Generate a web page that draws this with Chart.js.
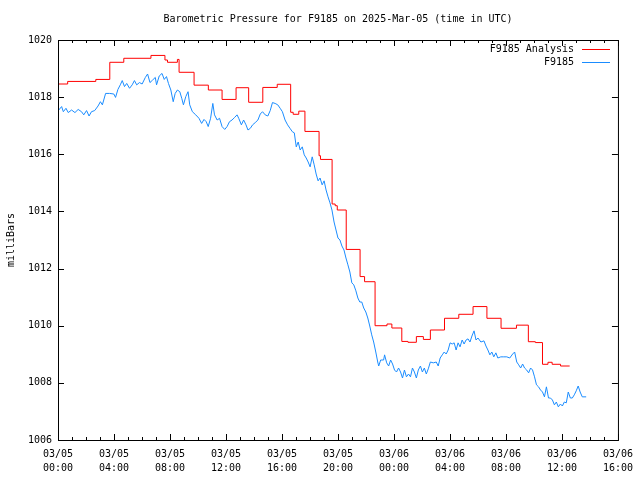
<!DOCTYPE html>
<html>
<head>
<meta charset="utf-8">
<script src="https://cdn.jsdelivr.net/npm/chart.js@4.4.1/dist/chart.umd.min.js"></script>
<style>
html,body{margin:0;padding:0;background:#fff;}
canvas{display:block;}
</style>
</head>
<body>
<canvas id="c" width="640" height="480"></canvas>
<script>
const chartTitle = "Barometric Pressure for F9185 on 2025-Mar-05 (time in UTC)";
const yTitle = "milliBars";
const startMonth = "03";
const startDay = 5; // hour 0 = 03/05 00:00 UTC
const xMin = 0, xMax = 40, xStep = 4;
const yMin = 1006, yMax = 1020, yStep = 2;

// hourly analysis, step starts (hours since 03/05 00:00)
const analysisLabel = "F9185 Analysis";
const analysisHours = [0, 0.69, 2.70, 3.70, 4.70, 6.64, 7.64, 7.82, 8.53, 8.65, 9.72, 10.74, 11.72, 12.72, 13.62, 14.63, 15.66, 16.62, 16.80, 17.20, 17.64, 18.65, 18.75, 19.58, 19.80, 19.95, 20.59, 21.58, 21.90, 22.65, 23.50, 23.85, 24.56, 25.00, 25.60, 26.10, 26.60, 27.61, 28.63, 29.65, 30.64, 31.65, 32.75, 33.60, 34.10, 34.61, 35.00, 35.30, 35.90, 36.55];
const analysisValues = [1018.46, 1018.55, 1018.62, 1019.22, 1019.36, 1019.46, 1019.30, 1019.22, 1019.32, 1018.87, 1018.42, 1018.25, 1017.92, 1018.33, 1017.82, 1018.34, 1018.45, 1017.47, 1017.40, 1017.51, 1016.80, 1015.95, 1015.82, 1014.26, 1014.20, 1014.05, 1012.67, 1011.72, 1011.54, 1010.00, 1010.06, 1009.92, 1009.45, 1009.42, 1009.62, 1009.52, 1009.85, 1010.26, 1010.40, 1010.67, 1010.26, 1009.91, 1010.02, 1009.44, 1009.41, 1008.65, 1008.72, 1008.65, 1008.59, 1008.59];

// station observations
const obsLabel = "F9185";
const obsHours = [0.02, 0.26, 0.38, 0.57, 0.73, 0.97, 1.21, 1.44, 1.68, 1.84, 2.04, 2.22, 2.39, 2.62, 2.86, 3.03, 3.17, 3.40, 3.69, 3.99,
  4.11, 4.28, 4.45, 4.59, 4.75, 4.91, 5.11, 5.30, 5.46, 5.62, 5.82, 6.01, 6.24, 6.40, 6.57, 6.76, 6.95, 7.04, 7.23, 7.43,
  7.59, 7.75, 7.89, 8.06, 8.23, 8.37, 8.53, 8.70, 8.84, 8.96, 9.13, 9.29, 9.41, 9.60, 9.84, 10.07, 10.26, 10.43, 10.59, 10.73,
  10.90, 11.06, 11.18, 11.37, 11.54, 11.72, 11.91, 12.08, 12.25, 12.43, 12.62, 12.79, 12.91, 13.10, 13.26, 13.43, 13.57, 13.74, 13.90, 14.09,
  14.28, 14.45, 14.61, 14.80, 14.99, 15.16, 15.32, 15.51, 15.70, 15.87, 16.03, 16.22, 16.40, 16.57, 16.74, 16.88, 17.02, 17.16, 17.30, 17.45,
  17.59, 17.73, 17.87, 18.01, 18.16, 18.30, 18.44, 18.58, 18.72, 18.87, 19.01, 19.15, 19.29, 19.43, 19.57, 19.72, 19.86, 20.00, 20.14, 20.28,
  20.43, 20.57, 20.71, 20.85, 20.99, 21.13, 21.28, 21.42, 21.56, 21.70, 21.84, 21.99, 22.13, 22.27, 22.41, 22.55, 22.70, 22.84, 22.91, 23.05,
  23.26, 23.33, 23.48, 23.62, 23.76, 23.90, 24.04, 24.18, 24.33, 24.47, 24.61, 24.75, 24.89, 25.04, 25.18, 25.32, 25.46, 25.60, 25.74, 25.89,
  26.03, 26.17, 26.31, 26.45, 26.60, 26.81, 27.02, 27.16, 27.30, 27.45, 27.59, 27.73, 27.87, 28.01, 28.16, 28.30, 28.44, 28.58, 28.72, 28.87,
  29.01, 29.15, 29.29, 29.43, 29.57, 29.72, 29.86, 30.00, 30.21, 30.43, 30.57, 30.71, 30.85, 30.99, 31.13, 31.28, 31.42, 31.63, 31.84, 32.06,
  32.27, 32.48, 32.62, 32.77, 32.91, 33.05, 33.19, 33.33, 33.48, 33.62, 33.76, 33.90, 34.04, 34.18, 34.33, 34.47, 34.61, 34.75, 34.89, 35.04,
  35.18, 35.32, 35.46, 35.60, 35.74, 35.89, 36.03, 36.17, 36.31, 36.45, 36.60, 36.74, 36.88, 37.02, 37.16, 37.30, 37.45, 37.73];
const obsValues = [1017.53, 1017.67, 1017.49, 1017.61, 1017.46, 1017.55, 1017.46, 1017.57, 1017.49, 1017.38, 1017.53, 1017.34, 1017.49, 1017.53, 1017.69, 1017.84, 1017.73, 1018.13, 1018.13, 1018.11,
  1017.99, 1018.27, 1018.43, 1018.58, 1018.37, 1018.48, 1018.31, 1018.43, 1018.58, 1018.43, 1018.51, 1018.46, 1018.69, 1018.81, 1018.51, 1018.60, 1018.69, 1018.43, 1018.74, 1018.83,
  1018.62, 1018.72, 1018.48, 1018.25, 1017.84, 1018.13, 1018.25, 1018.19, 1017.96, 1017.73, 1018.02, 1018.19, 1017.73, 1017.49, 1017.38, 1017.26, 1017.08, 1017.22, 1017.14, 1016.97,
  1017.26, 1017.78, 1017.38, 1017.20, 1017.26, 1016.97, 1016.87, 1016.97, 1017.14, 1017.20, 1017.29, 1017.38, 1017.26, 1017.03, 1017.20, 1017.03, 1016.85, 1016.91, 1017.03, 1017.11,
  1017.20, 1017.41, 1017.49, 1017.38, 1017.34, 1017.53, 1017.81, 1017.78, 1017.73, 1017.61, 1017.49, 1017.20, 1017.03, 1016.91, 1016.79, 1016.75, 1016.26, 1016.43, 1016.15, 1016.26,
  1015.98, 1015.87, 1015.73, 1015.56, 1015.91, 1015.63, 1015.31, 1015.07, 1015.17, 1014.93, 1015.07, 1014.75, 1014.51, 1014.30, 1014.05, 1013.63, 1013.35, 1013.07, 1013.00, 1012.79,
  1012.65, 1012.37, 1012.13, 1011.88, 1011.50, 1011.43, 1011.22, 1010.97, 1010.83, 1010.83, 1010.62, 1010.48, 1010.27, 1009.99, 1009.68, 1009.43, 1009.08, 1008.73, 1008.59, 1008.80,
  1008.80, 1008.98, 1008.70, 1008.59, 1008.80, 1008.66, 1008.45, 1008.38, 1008.52, 1008.38, 1008.17, 1008.45, 1008.21, 1008.31, 1008.21, 1008.52, 1008.38, 1008.17, 1008.45, 1008.59,
  1008.38, 1008.52, 1008.31, 1008.49, 1008.73, 1008.70, 1008.73, 1008.59, 1008.87, 1008.98, 1009.08, 1009.01, 1009.15, 1009.40, 1009.36, 1009.40, 1009.15, 1009.40, 1009.26, 1009.50,
  1009.36, 1009.50, 1009.54, 1009.43, 1009.64, 1009.82, 1009.50, 1009.57, 1009.43, 1009.47, 1009.29, 1009.15, 1008.98, 1009.08, 1008.91, 1009.05, 1008.87, 1008.91, 1008.91, 1008.91,
  1008.87, 1009.01, 1009.08, 1008.73, 1008.63, 1008.52, 1008.66, 1008.52, 1008.45, 1008.35, 1008.52, 1008.45, 1008.21, 1007.93, 1007.86, 1007.75, 1007.68, 1007.51, 1007.86, 1007.47,
  1007.47, 1007.40, 1007.23, 1007.33, 1007.16, 1007.26, 1007.19, 1007.33, 1007.30, 1007.68, 1007.47, 1007.47, 1007.58, 1007.72, 1007.89, 1007.68, 1007.51, 1007.51];

const pad2 = n => (n < 10 ? "0" : "") + n;
const toXY = (xs, ys) => xs.map((x, i) => ({x: x, y: ys[i]}));

Chart.defaults.font.family = "'DejaVu Sans Mono', monospace";
Chart.defaults.font.size = 10;
Chart.defaults.color = "#000";

// gnuplot-like frame, inward ticks, title, legend
const gnuFrame = {
  id: "gnuFrame",
  afterDatasetsDraw(chart) {
    const ctx = chart.ctx, a = chart.chartArea;
    const xs = chart.scales.x, ys = chart.scales.y;
    ctx.save();
    ctx.strokeStyle = "#000";
    ctx.lineWidth = 1;
    ctx.strokeRect(a.left + 0.5, a.top + 0.5, a.right - a.left, a.bottom - a.top);
    ctx.beginPath();
    for (let h = xMin; h <= xMax; h++) {
      const px = Math.round(xs.getPixelForValue(h)) + 0.5;
      const len = h % xStep === 0 ? 6 : 3;
      ctx.moveTo(px, a.bottom); ctx.lineTo(px, a.bottom - len);
      ctx.moveTo(px, a.top); ctx.lineTo(px, a.top + len);
    }
    for (let v = yMin; v <= yMax; v += yStep) {
      const py = Math.round(ys.getPixelForValue(v)) + 0.5;
      ctx.moveTo(a.left, py); ctx.lineTo(a.left + 6, py);
      ctx.moveTo(a.right, py); ctx.lineTo(a.right - 6, py);
    }
    ctx.stroke();

    ctx.fillStyle = "#000";
    ctx.font = "10px 'DejaVu Sans Mono', monospace";
    ctx.textAlign = "center";
    ctx.textBaseline = "middle";
    ctx.fillText(chartTitle, 338, 19);

    ctx.save();
    ctx.translate(11, 240);
    ctx.rotate(-Math.PI / 2);
    ctx.fillText(yTitle, 0, 0);
    ctx.restore();

    ctx.textAlign = "right";
    chart.data.datasets.forEach((ds, i) => {
      const y = 49 + i * 13;
      ctx.fillText(ds.label, 574, y);
      ctx.strokeStyle = ds.borderColor;
      ctx.beginPath();
      ctx.moveTo(582, y + 0.5); ctx.lineTo(610, y + 0.5);
      ctx.stroke();
    });
    ctx.restore();
  }
};

new Chart(document.getElementById("c"), {
  type: "line",
  data: {
    datasets: [{
      label: analysisLabel,
      data: toXY(analysisHours, analysisValues),
      borderColor: "#ff0000",
      borderWidth: 1,
      pointRadius: 0,
      stepped: "before",
      fill: false
    }, {
      label: obsLabel,
      data: toXY(obsHours, obsValues),
      borderColor: "#1a8cff",
      borderWidth: 1,
      pointRadius: 0,
      tension: 0,
      fill: false
    }]
  },
  options: {
    responsive: false,
    animation: false,
    events: [],
    layout: {padding: {left: 0, right: 18, top: 40, bottom: 0}},
    plugins: {legend: {display: false}, title: {display: false}, tooltip: {enabled: false}},
    scales: {
      x: {
        type: "linear",
        min: xMin, max: xMax,
        grid: {display: false, drawTicks: false},
        border: {display: false},
        ticks: {
          stepSize: xStep,
          autoSkip: false,
          maxRotation: 0,
          padding: 7,
          font: {lineHeight: 1.4},
          callback: v => [startMonth + "/" + pad2(startDay + Math.floor(v / 24)), pad2(v % 24) + ":00"]
        },
        afterFit: s => { s.height = 40; }
      },
      y: {
        min: yMin, max: yMax,
        grid: {display: false, drawTicks: false},
        border: {display: false},
        ticks: {stepSize: yStep, padding: 6, callback: v => String(v)},
        afterFit: s => { s.width = 58; }
      }
    }
  },
  plugins: [gnuFrame]
});
</script>
</body>
</html>
